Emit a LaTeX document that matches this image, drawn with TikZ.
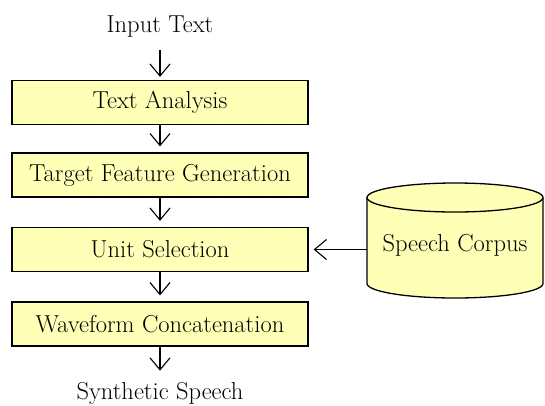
\documentclass[tikz,border=0pt]{standalone}
\usetikzlibrary{arrows.meta,patterns}
\definecolor{boxfill}{RGB}{255,255,176}
\tikzset{
  stagebox/.style={draw=black, line width=1.3pt, minimum width=296pt, minimum height=44pt,
    preaction={fill=boxfill}, pattern=crosshatch dots, pattern color=white!60!boxfill,
    inner sep=0pt, font=\fontsize{24.5}{28}\selectfont},
  plain/.style={inner sep=0pt, font=\fontsize{24.5}{28}\selectfont},
  flow/.style={line width=1.1pt, -{Straight Barb[length=12pt,width=20pt,line width=1.1pt]}}
}
\begin{document}
\begin{tikzpicture}[x=1pt,y=-1pt]
\useasboundingbox (0,0) rectangle (545,405);
\node[plain] (in) at (160,27) {Input Text};
\node[stagebox] (ta) at (160,102.5) {Text Analysis};
\node[stagebox] (tf) at (160,175) {Target Feature Generation};
\node[stagebox] (us) at (160,249.5) {Unit Selection};
\node[stagebox] (wc) at (160,324) {Waveform Concatenation};
\node[plain] (out) at (160,393) {Synthetic Speech};
% cylinder
\path[preaction={fill=boxfill}, pattern=crosshatch dots, pattern color=white!60!boxfill]
  (367,197.5) -- (367,283.5) arc[start angle=180,end angle=360,x radius=88,y radius=-14.5]
  -- (543,197.5) arc[start angle=0,end angle=180,x radius=88,y radius=-14.5] -- cycle;
\draw[line width=1.3pt] (367,197.5) -- (367,283.5) arc[start angle=180,end angle=360,x radius=88,y radius=-14.5]
  -- (543,197.5);
\draw[line width=1.3pt] (455,197.5) ellipse[x radius=88,y radius=14.5];
\node[plain] (sc) at (455,245) {Speech Corpus};
\coordinate (scl) at (367,249.5);
% arrows
\draw[flow] (160,50) -- ([yshift=3pt]ta.north);
\draw[flow] (ta.south) -- ([yshift=6pt]tf.north);
\draw[flow] (tf.south) -- ([yshift=6pt]us.north);
\draw[flow] (us.south) -- ([yshift=6pt]wc.north);
\draw[flow] (wc.south) -- ([yshift=-24pt]wc.south);
\draw[flow] (scl) -- ([xshift=5pt]us.east);
\end{tikzpicture}
\end{document}
